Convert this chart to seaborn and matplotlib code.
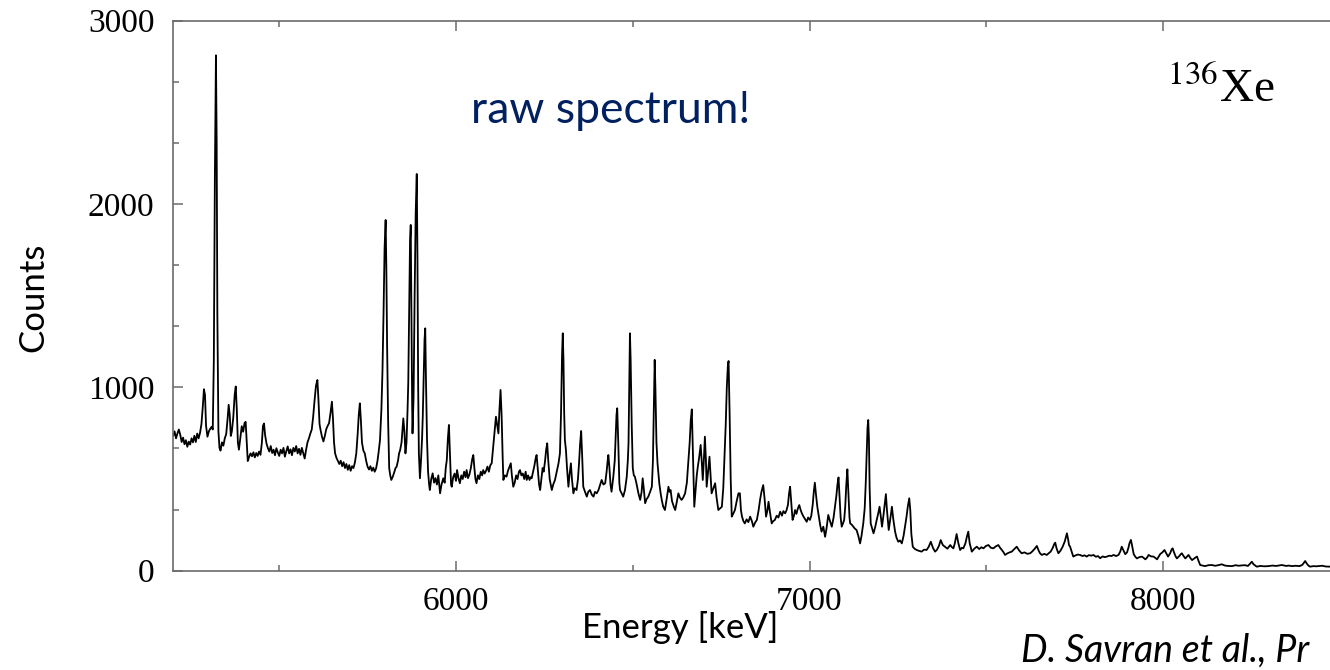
import matplotlib
matplotlib.use("Agg")
import matplotlib.pyplot as plt
import seaborn as sns
import pandas as pd
from matplotlib.ticker import MultipleLocator, AutoMinorLocator

# ---------------- data ----------------
energy_kev = [
    5200, 5204, 5208, 5212, 5216, 5220, 5224, 5228, 5232, 5236, 5240, 5244, 5248, 5252, 5256, 5260,
    5264, 5268, 5272, 5276, 5280, 5284, 5287, 5290, 5293, 5297, 5301, 5305, 5309, 5312, 5315, 5318,
    5321, 5323, 5325, 5328, 5331, 5334, 5338, 5342, 5346, 5350, 5354, 5357, 5360, 5363, 5366, 5370,
    5374, 5377, 5380, 5383, 5386, 5390, 5394, 5398, 5402, 5405, 5408, 5411, 5415, 5419, 5423, 5427,
    5431, 5435, 5439, 5443, 5447, 5451, 5454, 5457, 5460, 5464, 5468, 5472, 5476, 5480, 5484, 5488,
    5492, 5496, 5500, 5504, 5508, 5512, 5516, 5520, 5524, 5528, 5532, 5536, 5540, 5544, 5548, 5552,
    5556, 5560, 5564, 5568, 5572, 5576, 5580, 5584, 5588, 5592, 5596, 5600, 5604, 5608, 5611, 5614,
    5617, 5621, 5625, 5629, 5633, 5637, 5641, 5645, 5649, 5652, 5655, 5658, 5662, 5666, 5670, 5674,
    5678, 5682, 5686, 5690, 5694, 5698, 5702, 5706, 5710, 5714, 5718, 5722, 5725, 5728, 5731, 5734,
    5738, 5742, 5746, 5750, 5754, 5758, 5762, 5766, 5770, 5774, 5778, 5781, 5785, 5789, 5792, 5795,
    5798, 5801, 5803, 5805, 5808, 5811, 5814, 5817, 5821, 5825, 5829, 5832, 5836, 5839, 5842, 5846,
    5849, 5851, 5854, 5857, 5860, 5863, 5865, 5868, 5870, 5872, 5874, 5876, 5877, 5880, 5883, 5886,
    5889, 5891, 5893, 5895, 5898, 5901, 5904, 5906, 5909, 5911, 5913, 5915, 5918, 5921, 5924, 5926,
    5930, 5934, 5938, 5942, 5946, 5950, 5955, 5959, 5964, 5968, 5971, 5974, 5977, 5980, 5983, 5986,
    5988, 5992, 5996, 6000, 6003, 6007, 6011, 6015, 6019, 6023, 6027, 6030, 6034, 6038, 6042, 6046,
    6049, 6052, 6055, 6058, 6062, 6066, 6070, 6074, 6077, 6081, 6085, 6089, 6093, 6097, 6101, 6104,
    6106, 6110, 6113, 6117, 6120, 6123, 6126, 6129, 6132, 6134, 6138, 6143, 6147, 6151, 6155, 6158,
    6162, 6166, 6170, 6174, 6178, 6181, 6185, 6189, 6193, 6197, 6200, 6204, 6208, 6211, 6214, 6218,
    6222, 6225, 6228, 6231, 6235, 6238, 6242, 6245, 6248, 6252, 6255, 6258, 6261, 6265, 6268, 6271,
    6275, 6280, 6285, 6290, 6294, 6297, 6300, 6302, 6304, 6306, 6308, 6311, 6314, 6318, 6321, 6325,
    6328, 6332, 6336, 6341, 6345, 6348, 6351, 6354, 6357, 6360, 6365, 6370, 6374, 6379, 6384, 6389,
    6393, 6398, 6403, 6408, 6412, 6417, 6422, 6426, 6429, 6431, 6434, 6437, 6440, 6445, 6449, 6452,
    6454, 6456, 6459, 6462, 6464, 6469, 6473, 6478, 6483, 6486, 6488, 6490, 6492, 6494, 6497, 6500,
    6503, 6506, 6510, 6513, 6516, 6521, 6525, 6528, 6531, 6535, 6539, 6544, 6549, 6554, 6557, 6560,
    6562, 6564, 6567, 6570, 6573, 6575, 6579, 6582, 6586, 6591, 6595, 6601, 6604, 6607, 6611, 6616,
    6620, 6624, 6629, 6633, 6638, 6643, 6648, 6653, 6657, 6661, 6664, 6667, 6670, 6674, 6678, 6681,
    6684, 6688, 6692, 6695, 6698, 6701, 6704, 6707, 6709, 6713, 6717, 6720, 6723, 6728, 6733, 6737,
    6742, 6747, 6752, 6756, 6759, 6763, 6766, 6769, 6771, 6774, 6777, 6780, 6784, 6789, 6794, 6799,
    6803, 6806, 6809, 6813, 6817, 6822, 6827, 6832, 6837, 6841, 6846, 6851, 6856, 6860, 6864, 6869,
    6873, 6877, 6881, 6884, 6888, 6893, 6897, 6902, 6907, 6912, 6917, 6922, 6926, 6931, 6935, 6939,
    6942, 6945, 6948, 6952, 6956, 6959, 6963, 6967, 6971, 6975, 6979, 6983, 6988, 6992, 6996, 7001,
    7005, 7009, 7012, 7015, 7018, 7022, 7026, 7030, 7034, 7039, 7044, 7048, 7053, 7058, 7063, 7068,
    7072, 7076, 7079, 7082, 7085, 7088, 7091, 7095, 7098, 7101, 7104, 7107, 7110, 7113, 7115, 7120,
    7124, 7128, 7133, 7138, 7143, 7147, 7152, 7156, 7159, 7162, 7164, 7166, 7168, 7170, 7173, 7177,
    7181, 7186, 7190, 7194, 7198, 7202, 7205, 7209, 7213, 7216, 7219, 7224, 7229, 7233, 7237, 7242,
    7246, 7251, 7256, 7261, 7266, 7270, 7274, 7278, 7282, 7285, 7288, 7292, 7297, 7303, 7310, 7317,
    7324, 7331, 7337, 7343, 7349, 7355, 7360, 7366, 7371, 7377, 7383, 7390, 7398, 7403, 7407, 7411,
    7416, 7421, 7426, 7431, 7435, 7441, 7445, 7449, 7453, 7459, 7466, 7473, 7480, 7486, 7492, 7499,
    7506, 7513, 7520, 7527, 7534, 7539, 7544, 7549, 7553, 7560, 7566, 7572, 7579, 7586, 7593, 7600,
    7608, 7616, 7624, 7630, 7637, 7643, 7648, 7652, 7657, 7664, 7671, 7677, 7682, 7688, 7692, 7695,
    7699, 7704, 7710, 7716, 7722, 7726, 7728, 7731, 7734, 7737, 7742, 7746, 7753, 7759, 7765, 7772,
    7778, 7784, 7790, 7797, 7803, 7810, 7816, 7822, 7829, 7835, 7841, 7848, 7854, 7860, 7867, 7874,
    7879, 7883, 7888, 7893, 7898, 7902, 7905, 7909, 7912, 7917, 7922, 7926, 7933, 7940, 7945, 7950,
    7955, 7959, 7966, 7973, 7978, 7983, 7988, 7992, 7998, 8004, 8009, 8014, 8020, 8024, 8027, 8031,
    8035, 8039, 8046, 8050, 8053, 8058, 8063, 8068, 8072, 8077, 8082, 8089, 8094, 8096, 8100, 8105,
    8112, 8119, 8128, 8138, 8147, 8156, 8166, 8175, 8185, 8195, 8205, 8214, 8223, 8232, 8240, 8246,
    8251, 8256, 8265, 8275, 8286, 8298, 8309, 8320, 8336, 8348, 8356, 8364, 8375, 8386, 8394, 8399,
    8402, 8406, 8411, 8416, 8425, 8433, 8440, 8450, 8460, 8473,
]

counts = [
    735, 760, 722, 748, 770, 742, 702, 726, 690, 712, 676, 704, 688, 722, 700, 736,
    702, 748, 722, 752, 800, 900, 990, 960, 790, 731, 760, 775, 785, 770, 1150, 2150,
    2811, 2350, 1400, 760, 670, 655, 700, 682, 722, 745, 830, 905, 850, 735, 760, 835,
    960, 1005, 880, 700, 660, 722, 788, 758, 806, 812, 702, 598, 622, 640, 624, 646,
    618, 642, 626, 650, 632, 700, 790, 803, 740, 694, 668, 650, 680, 642, 660, 630,
    668, 645, 626, 660, 640, 670, 622, 652, 678, 640, 662, 630, 670, 650, 680, 640,
    665, 632, 670, 640, 612, 660, 700, 722, 748, 770, 840, 930, 1010, 1040, 930, 800,
    767, 730, 705, 735, 772, 790, 805, 860, 922, 830, 700, 640, 615, 598, 582, 600,
    570, 592, 560, 582, 550, 576, 545, 570, 560, 590, 640, 750, 850, 913, 820, 700,
    655, 640, 598, 567, 552, 570, 545, 562, 540, 558, 600, 645, 712, 880, 1086, 1400,
    1760, 1913, 1650, 1250, 820, 560, 520, 495, 512, 535, 560, 567, 600, 640, 658, 700,
    780, 831, 760, 640, 700, 880, 1024, 1500, 1800, 1886, 1400, 900, 749, 950, 1500, 1950,
    2164, 1700, 1000, 640, 504, 600, 720, 840, 1100, 1260, 1322, 1050, 720, 540, 470, 440,
    500, 531, 480, 505, 470, 520, 422, 470, 504, 480, 560, 604, 720, 795, 640, 470,
    458, 510, 530, 490, 549, 505, 477, 520, 500, 540, 510, 549, 505, 525, 560, 610,
    631, 560, 500, 477, 520, 500, 540, 520, 549, 530, 545, 568, 540, 575, 586, 650,
    695, 780, 840, 790, 749, 880, 986, 850, 620, 495, 520, 513, 545, 565, 586, 520,
    458, 480, 520, 500, 540, 549, 520, 530, 500, 540, 495, 520, 495, 510, 504, 540,
    575, 610, 631, 560, 470, 440, 510, 560, 540, 600, 660, 695, 600, 500, 470, 440,
    470, 495, 540, 586, 640, 850, 1180, 1295, 1150, 860, 713, 658, 560, 458, 520, 586,
    500, 422, 450, 440, 500, 586, 690, 762, 620, 458, 430, 404, 430, 440, 415, 404,
    430, 422, 440, 470, 495, 470, 477, 540, 600, 631, 560, 470, 431, 513, 600, 750,
    850, 886, 700, 480, 440, 420, 404, 440, 513, 600, 695, 1000, 1295, 1150, 800, 560,
    520, 513, 480, 450, 422, 386, 430, 504, 450, 368, 390, 404, 430, 458, 600, 950,
    1150, 1000, 700, 586, 520, 477, 420, 386, 350, 331, 380, 458, 430, 440, 380, 350,
    331, 370, 422, 400, 386, 400, 422, 480, 586, 700, 820, 880, 650, 349, 450, 520,
    567, 620, 686, 600, 495, 600, 731, 600, 458, 540, 622, 520, 422, 450, 477, 400,
    331, 340, 349, 450, 604, 800, 1000, 1120, 1144, 850, 500, 295, 310, 331, 380, 422,
    422, 330, 295, 270, 258, 280, 265, 295, 270, 240, 262, 277, 330, 386, 430, 467,
    390, 295, 330, 376, 320, 258, 270, 277, 300, 290, 322, 300, 325, 313, 330, 360,
    420, 458, 380, 277, 300, 331, 310, 340, 358, 330, 310, 295, 280, 267, 290, 277,
    300, 360, 430, 480, 420, 349, 300, 250, 213, 240, 185, 230, 304, 270, 240, 290,
    349, 410, 470, 509, 400, 290, 240, 260, 277, 350, 470, 553, 420, 290, 258, 250,
    240, 230, 222, 190, 149, 190, 258, 340, 477, 650, 780, 822, 720, 450, 258, 230,
    204, 240, 277, 310, 349, 290, 240, 300, 370, 418, 330, 222, 290, 349, 280, 213,
    180, 158, 165, 149, 190, 240, 290, 350, 395, 330, 200, 131, 120, 113, 108, 104,
    115, 113, 130, 158, 125, 104, 113, 135, 167, 140, 131, 120, 140, 128, 122, 150,
    200, 150, 113, 125, 122, 150, 185, 213, 150, 104, 120, 131, 118, 128, 122, 135,
    140, 125, 122, 133, 140, 125, 113, 100, 86, 95, 100, 104, 118, 131, 110, 95,
    100, 92, 95, 105, 120, 135, 110, 95, 86, 92, 86, 96, 104, 125, 145, 153,
    120, 95, 110, 131, 160, 190, 204, 175, 140, 131, 100, 77, 84, 88, 86, 80,
    84, 77, 85, 82, 86, 76, 80, 68, 78, 74, 77, 82, 80, 86, 80, 86,
    105, 131, 110, 90, 100, 125, 150, 168, 140, 90, 75, 67, 74, 77, 70, 62,
    72, 86, 78, 77, 70, 62, 78, 91, 100, 113, 95, 77, 95, 115, 122, 100,
    80, 67, 80, 90, 95, 80, 67, 78, 86, 70, 58, 68, 75, 77, 55, 31,
    28, 25, 30, 31, 27, 30, 35, 28, 26, 25, 30, 27, 29, 30, 26, 38,
    49, 35, 22, 26, 24, 25, 28, 26, 31, 26, 28, 25, 27, 25, 32, 45,
    53, 40, 28, 22, 25, 24, 25, 27, 23, 22,
]

x_ticks = [6000, 7000, 8000]
y_ticks = [0, 1000, 2000, 3000]
x_limits = (5200, 8500)
y_limits = (0, 3000)

x_label = "Energy [keV]"
y_label = "Counts"
note_text = "raw spectrum!"
nucleus_text = r"$^{136}$Xe"
citation_text = "D. Savran et al., Pr"

# ---------------- styling ----------------
sns.set_style("ticks")
plt.rcParams["font.family"] = ["Lato", "DejaVu Sans"]
plt.rcParams["mathtext.fontset"] = "stix"

spine_col = "#6b6b6b"
serif = ["Liberation Serif", "DejaVu Serif"]

fig = plt.figure(figsize=(13.3, 6.7), dpi=100)
ax = fig.add_axes([0.1302, 0.1482, 0.8772, 0.8209])

df = pd.DataFrame({"energy": energy_kev, "counts": counts})
sns.lineplot(data=df, x="energy", y="counts", ax=ax, color="black",
             linewidth=1.3, estimator=None, sort=False)

ax.set_xlim(*x_limits)
ax.set_ylim(*y_limits)
ax.set_xticks(x_ticks)
ax.set_yticks(y_ticks)
ax.xaxis.set_minor_locator(MultipleLocator(500))
ax.yaxis.set_minor_locator(AutoMinorLocator(3))

for s in ax.spines.values():
    s.set_color(spine_col)
    s.set_linewidth(1.2)

ax.tick_params(which="both", direction="in", top=True, right=True,
               color=spine_col, width=1.1)
ax.tick_params(which="major", length=7.5)
ax.tick_params(which="minor", length=4)
ax.tick_params(axis="x", which="major", pad=11.5)
ax.tick_params(axis="y", which="major", pad=13.5)

for lab in ax.get_xticklabels() + ax.get_yticklabels():
    lab.set_fontfamily(serif)
    lab.set_fontsize(24)
    lab.set_color("black")

ax.set_xlabel(x_label, fontsize=25, color="black")
ax.set_ylabel(y_label, fontsize=25, color="black")
ax.xaxis.label.set_va("center")
ax.yaxis.label.set_va("center")
ax.xaxis.set_label_coords(0.4344, -0.1024)
ax.yaxis.set_label_coords(-0.1202, 0.4977)

ax.text(0.2550, 0.8136, note_text, transform=ax.transAxes, fontsize=32,
        color="#002060", ha="left", va="baseline")

fig.text(0.8774, 0.8478, nucleus_text, fontsize=34, color="black",
         family=serif, ha="left", va="baseline")

fig.text(0.768, 0.012, citation_text, fontsize=27, style="italic",
         color="black", ha="left", va="baseline")

fig.savefig("out.png", dpi=100)
